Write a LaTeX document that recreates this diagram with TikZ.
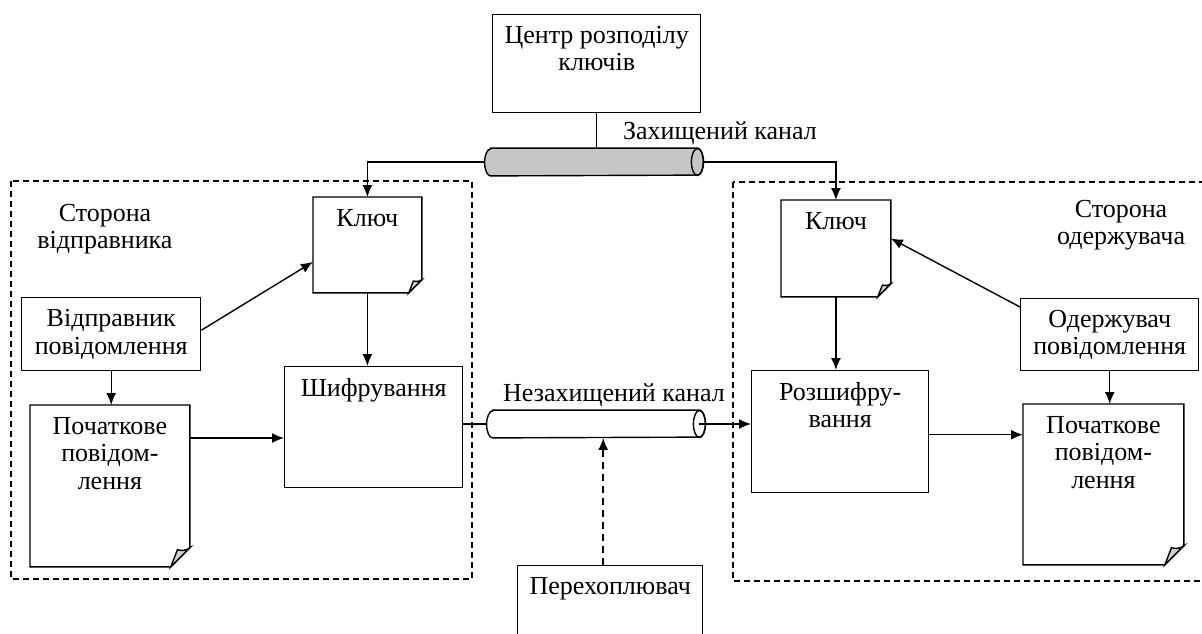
\documentclass[tikz,border=0pt]{standalone}
\usepackage{fontspec}
\setmainfont{Liberation Serif}
\usetikzlibrary{arrows.meta}

\tikzset{
  box/.style={draw, line width=0.7pt, anchor=north west, inner sep=0pt},
  doc/.style={anchor=north west, inner sep=0pt},
  toptext/.style={label={[anchor=north,align=center,yshift=-2.5pt]north:#1}},
  chan/.style={inner sep=0pt, minimum width=109pt, minimum height=13.5pt},
  arr/.style={line width=0.7pt, -{Latex[length=6pt,width=5pt]}},
  link/.style={line width=0.7pt},
  zone/.style={dash pattern=on 3pt off 2pt, line width=0.6pt},
}

\begin{document}
\begin{tikzpicture}[x=0.5pt,y=-0.5pt,font=\fontsize{13pt}{13.8pt}\selectfont]
\clip (0,0) rectangle (1202,633);
% zones
\draw[zone](11,181) rectangle (472,579);
\draw[zone](733,182) rectangle (1215,581);
\node[align=center](sndSide) at (105,229){Сторона\\відправника};
\node[align=center](rcvSide) at (1121,225){Сторона\\одержувача};
% key centre and secure channel
\node[box,minimum width=104pt,minimum height=49pt,toptext={Центр розподілу\\ключів}](kdc) at (492,14){};
\node[chan](chS) at (594,162){};
\node(chSlbl) at (720,133){Захищений канал};
% sender
\node[doc,minimum width=54pt,minimum height=47.5pt,toptext=Ключ](keyL) at (313,197){};
\node[box,minimum width=89.5pt,minimum height=36.5pt,align=center](sndr) at (21,297){Відправник\\повідомлення};
\node[doc,minimum width=79.5pt,minimum height=80.5pt,toptext={Початкове\\повідом-\\лення}](msgL) at (30,405){};
\node[box,minimum width=89pt,minimum height=60.5pt,toptext=Шифрування](enc) at (284,366){};
% open channel and eavesdropper
\node[chan](chU) at (596,424){};
\node(chUlbl) at (614,395){Незахищений канал};
\node[box,minimum width=92.5pt,minimum height=50pt,toptext=Перехоплювач](eve) at (517,565){};
% receiver
\node[doc,minimum width=54.5pt,minimum height=48pt,toptext=Ключ](keyR) at (781,200){};
\node[box,minimum width=89pt,minimum height=36pt,align=center](rcvr) at (1020,298){Одержувач\\повідомлення};
\node[box,minimum width=88.5pt,minimum height=61pt,toptext={Розшифру-\\вання}](dec) at (751,370){};
\node[doc,minimum width=80pt,minimum height=80pt,toptext={Початкове\\повідом-\\лення}](msgR) at (1023,404){};

% documents with folded corner
\foreach \n/\f in {keyL/6.5pt,msgL/9.5pt,keyR/6.5pt,msgR/9.5pt}{
  \draw[link](\n.north west) -- (\n.north east) -- ([yshift=\f]\n.south east) -- ([xshift=-\f]\n.south east) -- (\n.south west) -- cycle;
  \filldraw[link,fill=gray!35]([xshift=-\f]\n.south east) -- ([xshift=-0.65*\f,yshift=0.9*\f]\n.south east) to[bend right=25] ([yshift=\f]\n.south east) -- cycle;
}
% pipes
\foreach \n/\c in {chS/gray!45,chU/white}{
  \filldraw[link,fill=\c]([xshift=3pt]\n.north west) -- ([xshift=-3pt]\n.north east)
    arc[start angle=90,end angle=-90,x radius=3pt,y radius=6.75pt] -- ([xshift=3pt]\n.south west)
    arc[start angle=270,end angle=90,x radius=3pt,y radius=6.75pt] -- cycle;
  \draw[link]([xshift=-3pt]\n.east) ellipse[x radius=3pt,y radius=6.75pt];
}

% connectors
\draw[link](kdc.south) -- (kdc.south |- chS.north);
\draw[arr](chS.west) -| (keyL.north);
\draw[arr](chS.east) -| (keyR.north);
\draw[arr]([yshift=2pt]sndr.east) -- ([yshift=-8.5pt]keyL.west);
\draw[arr](sndr.south) -- (sndr.south |- msgL.north);
\path([yshift=-16.5pt]msgL.north east) coordinate (m1);
\draw[arr](m1) -- (m1 -| enc.west);
\draw[arr](keyL.south) -- (keyL.south |- enc.north);
\draw[link](chU.west -| enc.east) -- (chU.west);
\draw[arr]([xshift=-3pt]chU.east) -- (chU.east -| dec.west);
\draw[arr,dash pattern=on 3.5pt off 2.5pt,line width=0.8pt]([xshift=-3.5pt]eve.north) -- ([xshift=-3.5pt]eve.north |- chU.south);
\draw[arr](keyR.south) -- (keyR.south |- dec.north);
\draw[arr]([yshift=-4.5pt]rcvr.north west) -- ([yshift=5pt]keyR.east);
\draw[arr](rcvr.south) -- (rcvr.south |- msgR.north);
\path([yshift=-1.5pt]dec.east) coordinate (d1);
\draw[arr](d1) -- (d1 -| msgR.west);
\end{tikzpicture}
\end{document}
